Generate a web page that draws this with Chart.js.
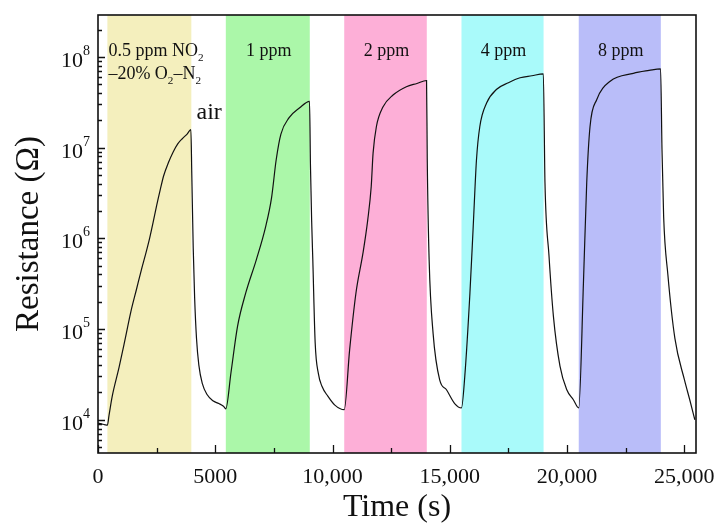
<!DOCTYPE html>
<html>
<head>
<meta charset="utf-8">
<script src="https://cdn.jsdelivr.net/npm/chart.js@4.4.0/dist/chart.umd.min.js"></script>
<style>
  html, body { margin: 0; padding: 0; background: #fff; }
  #wrap { width: 720px; height: 527px; }
</style>
</head>
<body>
<div id="wrap"><canvas id="chart" width="720" height="527"></canvas></div>
<script>
// gas exposure windows (s)
var gasStart = [400, 5450, 10500, 15500, 20500];
var gasEnd   = [3980, 9030, 14020, 19000, 24000];
var gasLabel = ['0.5 ppm', '1 ppm', '2 ppm', '4 ppm', '8 ppm'];
var gasColor = ['#f4efbd', '#abf7a9', '#fdafd7', '#a9fafa', '#b9bdf9'];

// response cycles: time (s) / resistance (ohm)
var cycle1Time = [0, 150, 300, 400, 470, 600, 900, 1150, 1400, 1650, 1850, 2050, 2200, 2350, 2500, 2650, 2800, 3000, 3200, 3400, 3600, 3800, 3960,
                  4000, 4060, 4120, 4200, 4300, 4450, 4650, 4900, 5150, 5350];
var cycle1Res  = [9.2e3, 9.0e3, 8.8e3, 8.7e3, 1.12e4, 1.78e4, 3.8e4, 7.6e4, 1.55e5, 2.8e5, 4.5e5, 7.0e5, 1.0e6, 1.5e6, 2.3e6, 3.4e6, 4.9e6, 6.8e6, 8.9e6, 1.1e7, 1.26e7, 1.41e7, 1.58e7,
                  5.0e6, 7.9e5, 2.24e5, 7.9e4, 4.0e4, 2.5e4, 1.9e4, 1.62e4, 1.51e4, 1.41e4];

var cycle2Time = [5450, 5670, 5950, 6300, 6750, 7150, 7400, 7600, 7800, 8150, 8600, 9020,
                  9060, 9110, 9160, 9260, 9400, 9550, 9800, 10100];
var cycle2Res  = [1.32e4, 3.3e4, 1.07e5, 2.5e5, 5.8e5, 1.35e6, 2.8e6, 7.4e6, 1.41e7, 2.14e7, 2.75e7, 3.24e7,
                  6.3e6, 1.58e6, 5.8e5, 7.1e4, 3.2e4, 2.34e4, 1.82e4, 1.45e4];

var cycle3Time = [10500, 10730, 11000, 11300, 11500, 11650, 11730, 11870, 12150, 12580, 13150, 13600, 14010,
                  14040, 14120, 14290, 14570, 14860, 15210];
var cycle3Res  = [1.29e4, 5.9e4, 2.5e5, 6.9e5, 1.58e6, 3.7e6, 8.7e6, 1.7e7, 2.8e7, 3.8e7, 4.7e7, 5.1e7, 5.5e7,
                  7.4e6, 5.8e5, 8.9e4, 2.75e4, 2.14e4, 1.51e4];

var cycle4Time = [15500, 15640, 15860, 16000, 16140, 16280, 16570, 17000, 17500, 18000, 18500, 18990,
                  19060, 19230, 19420, 19700, 19990, 20270];
var cycle4Res  = [1.35e4, 3.0e4, 2.5e5, 1.35e6, 7.4e6, 1.7e7, 3.1e7, 4.4e7, 5.2e7, 5.9e7, 6.2e7, 6.5e7,
                  4.1e6, 6.5e5, 1.38e5, 3.9e4, 2.14e4, 1.66e4];

var cycle5Time = [20500, 20700, 20840, 20980, 21270, 21840, 22830, 23500, 23990,
                  24050, 24120, 24300, 24600, 25000, 25250, 25450];
var cycle5Res  = [1.35e4, 3.2e5, 4.1e6, 1.7e7, 3.4e7, 5.4e7, 6.6e7, 7.1e7, 7.4e7,
                  9.5e6, 1.74e6, 4.0e5, 7.9e4, 2.8e4, 1.6e4, 1.0e4];

var xTicks = [0, 2500, 5000, 7500, 10000, 12500, 15000, 17500, 20000, 22500, 25000];
var yDecades = [3, 4, 5, 6, 7, 8];

var X_MIN = 0, X_MAX = 25500, Y_MIN = 4300, Y_MAX = 2.9e8;
var SERIF = '"Liberation Serif", "Times New Roman", serif';

function toPoints() {
    var pts = [];
    [[cycle1Time, cycle1Res], [cycle2Time, cycle2Res], [cycle3Time, cycle3Res],
     [cycle4Time, cycle4Res], [cycle5Time, cycle5Res]].forEach(function(c) {
        for (var i = 0; i < c[0].length; i++) {
            pts.push({ x: c[0][i], y: c[1][i] });
        }
    });
    return pts;
}

function yTickValues() {
    var vals = [];
    yDecades.forEach(function(d) {
        for (var m = 1; m <= 9; m++) {
            var v = m * Math.pow(10, d);
            if (v >= Y_MIN && v <= Y_MAX) vals.push(v);
        }
    });
    return vals;
}

// draw text made of normal / subscript runs, left aligned
function drawRuns(ctx, x, y, runs, size) {
    ctx.textAlign = 'left';
    ctx.textBaseline = 'alphabetic';
    runs.forEach(function(r) {
        var s = r.sub ? size * 0.62 : size;
        ctx.font = s + 'px ' + SERIF;
        ctx.fillText(r.t, x, y + (r.sub ? size * 0.25 : 0));
        x += ctx.measureText(r.t).width;
    });
}

var bandsPlugin = {
    id: 'bands',
    beforeDatasetsDraw: function(chart) {
        var ctx = chart.ctx, area = chart.chartArea, xs = chart.scales.x;
        ctx.save();
        for (var i = 0; i < gasStart.length; i++) {
            var x1 = xs.getPixelForValue(gasStart[i]);
            var x2 = xs.getPixelForValue(gasEnd[i]);
            ctx.fillStyle = gasColor[i];
            ctx.fillRect(x1, area.top, x2 - x1, area.bottom - area.top);
        }
        ctx.restore();
    }
};

var framePlugin = {
    id: 'frame',
    afterDraw: function(chart) {
        var ctx = chart.ctx, area = chart.chartArea;
        var xs = chart.scales.x, ys = chart.scales.y;
        ctx.save();
        ctx.strokeStyle = '#111';

        // inward ticks
        ctx.lineWidth = 1.3;
        ctx.beginPath();
        xs.ticks.forEach(function(t) {
            var px = Math.round(xs.getPixelForValue(t.value)) + 0.5;
            var len = (t.value % 5000 === 0) ? 8 : 5;
            ctx.moveTo(px, area.bottom);
            ctx.lineTo(px, area.bottom - len);
        });
        ys.ticks.forEach(function(t) {
            var py = Math.round(ys.getPixelForValue(t.value)) + 0.5;
            var dec = Math.abs(Math.log10(t.value) - Math.round(Math.log10(t.value))) < 1e-9;
            ctx.moveTo(area.left, py);
            ctx.lineTo(area.left + (dec ? 7 : 4), py);
        });
        ctx.stroke();

        // plot frame
        ctx.lineWidth = 1.6;
        ctx.strokeRect(area.left, area.top, area.right - area.left, area.bottom - area.top);

        // y labels 10^n
        ctx.fillStyle = '#111';
        ys.ticks.forEach(function(t) {
            var e = Math.log10(t.value);
            if (Math.abs(e - Math.round(e)) > 1e-9) return;
            var py = ys.getPixelForValue(t.value);
            var exp = String(Math.round(e));
            ctx.font = '14px ' + SERIF;
            var ew = ctx.measureText(exp).width;
            var right = area.left - 8;
            ctx.textAlign = 'left';
            ctx.textBaseline = 'alphabetic';
            ctx.fillText(exp, right - ew, py - 2);
            ctx.font = '22px ' + SERIF;
            ctx.textAlign = 'right';
            ctx.fillText('10', right - ew, py + 10);
        });

        // concentration labels
        ctx.fillStyle = '#111';
        var yl = area.top + 41;
        drawRuns(ctx, xs.getPixelForValue(gasStart[0]) + 1, yl,
            [{ t: gasLabel[0] + ' NO' }, { t: '2', sub: true }], 18);
        drawRuns(ctx, xs.getPixelForValue(gasStart[0]) + 1, yl + 23,
            [{ t: '\u201320% O' }, { t: '2', sub: true }, { t: '\u2013N' }, { t: '2', sub: true }], 18);
        ctx.font = '18px ' + SERIF;
        ctx.textAlign = 'center';
        for (var i = 1; i < gasLabel.length; i++) {
            var cx = (xs.getPixelForValue(gasStart[i]) + xs.getPixelForValue(gasEnd[i])) / 2;
            ctx.fillText(gasLabel[i], cx + 1, yl);
        }
        ctx.font = '24px ' + SERIF;
        ctx.textAlign = 'left';
        ctx.fillText('air', xs.getPixelForValue(4200), area.top + 104);
        ctx.restore();
    }
};

new Chart(document.getElementById('chart'), {
    type: 'line',
    data: {
        datasets: [{
            data: toPoints(),
            borderColor: '#111',
            borderWidth: 1.2,
            pointRadius: 0,
            fill: false,
            cubicInterpolationMode: 'monotone'
        }]
    },
    options: {
        responsive: false,
        animation: false,
        layout: { padding: { top: 15, right: 24, left: 0, bottom: 0 } },
        plugins: {
            legend: { display: false },
            tooltip: { enabled: false }
        },
        scales: {
            x: {
                type: 'linear',
                min: X_MIN,
                max: X_MAX,
                afterBuildTicks: function(scale) {
                    scale.ticks = xTicks.map(function(v) { return { value: v }; });
                },
                afterFit: function(scale) {
                    scale.height = 74;
                    scale.paddingLeft = 0;
                    scale.paddingRight = 0;
                },
                grid: { display: false, drawTicks: false },
                border: { display: false },
                ticks: {
                    autoSkip: false,
                    maxRotation: 0,
                    padding: 11,
                    color: '#111',
                    font: { family: SERIF, size: 22 },
                    callback: function(v) {
                        if (v % 5000 !== 0) return '';
                        if (v < 10000) return String(v);
                        return v.toLocaleString('en-US');
                    }
                },
                title: {
                    display: true,
                    text: 'Time (s)',
                    color: '#111',
                    font: { family: SERIF, size: 32 },
                    padding: { top: 0, bottom: 0 }
                }
            },
            y: {
                type: 'logarithmic',
                min: Y_MIN,
                max: Y_MAX,
                afterBuildTicks: function(scale) {
                    scale.ticks = yTickValues().map(function(v) { return { value: v }; });
                },
                afterFit: function(scale) {
                    scale.width = 98;
                    scale.paddingTop = 0;
                    scale.paddingBottom = 0;
                },
                grid: { display: false, drawTicks: false },
                border: { display: false },
                ticks: { display: false },
                title: {
                    display: true,
                    text: 'Resistance (\u03a9)',
                    color: '#111',
                    font: { family: SERIF, size: 33 },
                    padding: { top: 10, bottom: 0 }
                }
            }
        }
    },
    plugins: [bandsPlugin, framePlugin]
});
</script>
</body>
</html>
